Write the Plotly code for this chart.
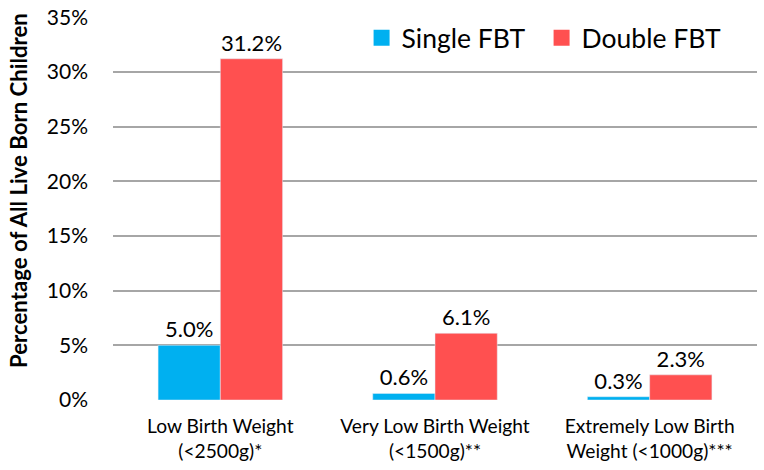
import plotly.graph_objects as go

categories = ["Low Birth Weight<br>(<2500g)*", "Very Low Birth Weight<br>(<1500g)**", "Extremely Low Birth<br>Weight (<1000g)***"]
single_fbt = [5.0, 0.6, 0.3]
double_fbt = [31.2, 6.1, 2.3]
y_ticks = [0, 5, 10, 15, 20, 25, 30, 35]

BLUE = "#00B0F0"
RED = "#FF5050"
FONT = "Lato"

fig = go.Figure()
fig.add_bar(x=categories, y=single_fbt, name="Single FBT", marker_color=BLUE,
            text=[f"{v:.1f}%" for v in single_fbt], textposition="outside",
            textfont=dict(size=22, color="black", family=FONT), cliponaxis=False, showlegend=False)
fig.add_bar(x=categories, y=double_fbt, name="Double FBT", marker_color=RED,
            text=[f"{v:.1f}%" for v in double_fbt], textposition="outside",
            textfont=dict(size=22, color="black", family=FONT), cliponaxis=False, showlegend=False)
# legend proxies
fig.add_scatter(x=[None], y=[None], mode="markers", name="Single FBT",
                marker=dict(symbol="square", size=17, color=BLUE))
fig.add_scatter(x=[None], y=[None], mode="markers", name="Double FBT",
                marker=dict(symbol="square", size=17, color=RED))

fig.update_layout(
    width=764, height=470,
    margin=dict(l=113, r=7, t=17, b=70),
    plot_bgcolor="white", paper_bgcolor="white",
    barmode="group", bargap=0.42, bargroupgap=0,
    font=dict(family=FONT, color="black"),
    legend=dict(orientation="h", x=0.386, y=0.945, xanchor="left", yanchor="middle",
                font=dict(size=26.5, family=FONT), bgcolor="rgba(255,255,255,0)",
                itemsizing="trace", tracegroupgap=0,
                entrywidth=135, entrywidthmode="pixels"),
    xaxis=dict(tickfont=dict(size=19.2, family=FONT), showgrid=False, showline=False,
               ticks="", type="category", automargin=False, ticklabelstandoff=13),
    yaxis=dict(range=[0, 35.02], tickvals=y_ticks, ticktext=[f"{t}%" for t in y_ticks],
               tickfont=dict(size=21, family=FONT), showgrid=True, gridcolor="#A6A6A6",
               gridwidth=1.5, zeroline=False, showline=False, ticks="",
               ticklabelstandoff=24, automargin=False, ticklabeloverflow="allow"),
    annotations=[dict(text="<b>Percentage of All Live Born Children</b>",
                      xref="paper", yref="paper", x=(18 - 113) / 644, y=(400 - 191) / 383,
                      xanchor="center", yanchor="middle", textangle=-90, showarrow=False,
                      font=dict(size=22.2, family=FONT))],
)
fig.write_html("out.html", config={"displayModeBar": False},
               post_script="document.body.style.margin='0px';")
